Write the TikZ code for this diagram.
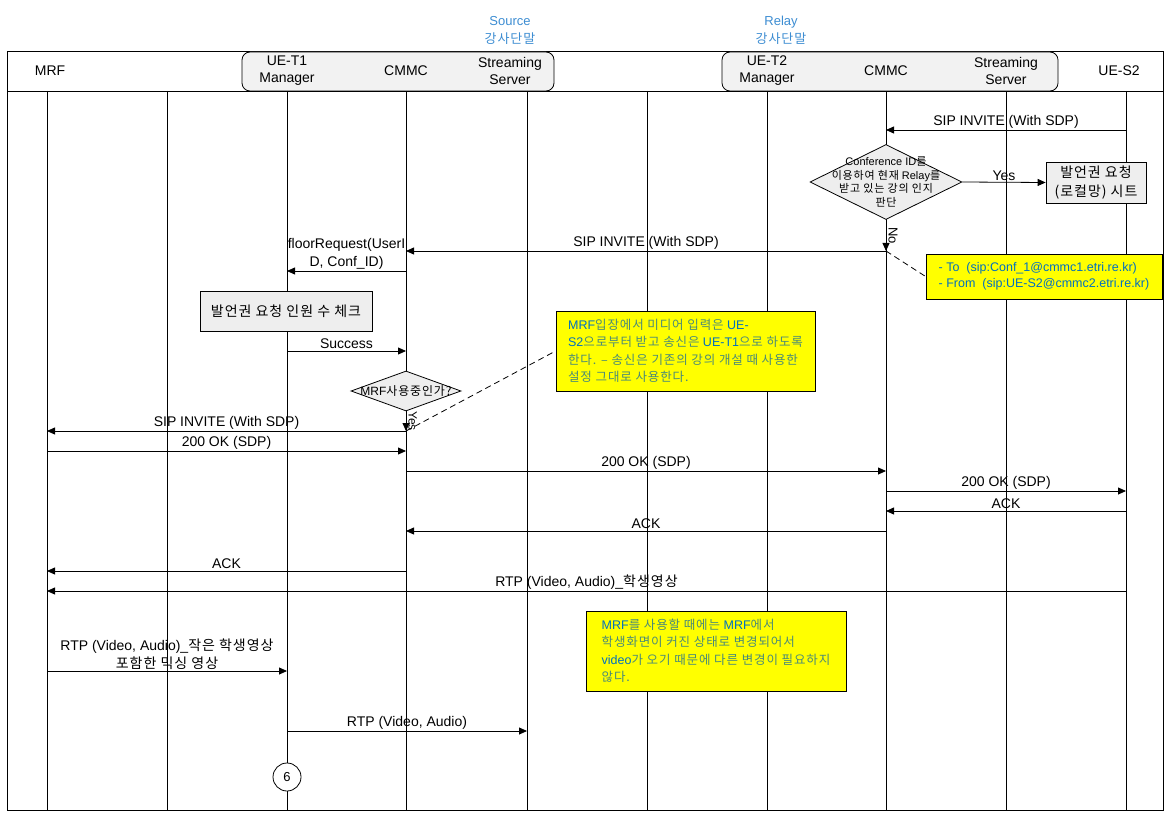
\documentclass[tikz,border=0pt]{standalone}
\usepackage{fontspec}
\setmainfont{Liberation Sans}
\newfontfamily\krfont{Noto Sans CJK KR}[LetterSpace=7]
\usetikzlibrary{arrows.meta, shapes.geometric}
\definecolor{noteY}{HTML}{FFFF00}
\definecolor{noteB}{HTML}{0070C0}
\definecolor{noteK}{HTML}{4A8A78}
\definecolor{grpB}{HTML}{3D8DD2}
\definecolor{boxG}{HTML}{EEEEEE}
\definecolor{grpG}{HTML}{F2F2F2}
\newcommand{\kr}[1]{{\krfont #1}}
\newcommand{\lt}[1]{{\color{noteB}#1}}

\tikzset{
  msg/.style={-{Triangle[length=8pt,width=7pt]}},
  lbl/.style={above, inner sep=1.5pt, font=\fontsize{14}{18}\selectfont, align=center},
  hdr/.style={font=\fontsize{14}{17}\selectfont, align=center},
  grp/.style={draw, fill=grpG, rounded corners=8pt, minimum height=39pt},
  grplbl/.style={text=grpB, font=\fontsize{13}{18}\selectfont, align=center},
  proc/.style={draw, fill=boxG, inner sep=0pt},
  dec/.style={diamond, draw, fill=boxG, inner sep=0pt},
  note/.style={draw, fill=noteY, inner sep=0pt, align=left, text=noteK,
    font=\fontsize{12.5}{17.5}\selectfont},
  link/.style={dashed, dash pattern=on 6pt off 4pt}
}

\begin{document}
\begin{tikzpicture}[x=1pt, y=-1pt, line width=0.8pt]
\useasboundingbox (0,0) rectangle (1170,818);

% lifelines
\foreach \n/\x in {mrf/47, la/167, ut1/287, cm1/406, ss1/527, lb/647, ut2/767, cm2/886, ss2/1006, us2/1126}
  \coordinate (\n) at (\x,91);
\foreach \n in {mrf, la, ut1, cm1, ss1, lb, ut2, cm2, ss2, us2}
  \draw (\n) -- (\n |- 0,810);

% frame and header row
\draw (7,51) rectangle (1163,810);
\draw (7,91) -- (1163,91);
\node[grp, minimum width=312pt] (srcgrp) at (398,71.5) {};
\node[grp, minimum width=336pt] (relgrp) at (890,71.5) {};
\node[grplbl] (srclbl) at (510,30) {Source\\\kr{강사단말}};
\node[grplbl] (rellbl) at (781,30) {Relay\\\kr{강사단말}};
\node[hdr] (hmrf) at (50,71) {MRF};
\node[hdr] (hut1) at (287,71) {UE-T1\\Manager};
\node[hdr] (hcm1) at (406,71) {CMMC};
\node[hdr] (hss1) at (510,71) {Streaming\\Server};
\node[hdr] (hut2) at (767,71) {UE-T2\\Manager};
\node[hdr] (hcm2) at (886,71) {CMMC};
\node[hdr] (hss2) at (1006,71) {Streaming\\Server};
\node[hdr] (hus2) at (1119,71) {UE-S2};

% relay side
\draw[msg] (us2 |- 0,130) -- node[lbl] {SIP INVITE (With SDP)} (cm2 |- 0,130);
\node[dec, minimum width=152pt, minimum height=75pt] (d1) at (886,182) {};
\node[font=\fontsize{11}{13.5}\selectfont, align=center] (d1txt) at (d1)
  {Conference ID\kr{를}\\\kr{이용하여 현재} Relay\kr{를}\\\kr{받고 있는 강의 인지}\\\kr{판단}};
\node[proc, minimum width=100pt, minimum height=41pt, font=\fontsize{14}{19}\selectfont, align=center]
  (floor) at (1096,182.5) {\kr{발언권 요청}\\\kr{(로컬망) 시트}};
\draw[msg] (d1.east) -- node[lbl] {Yes} (floor.west);
\coordinate (inv2) at (886,251);
\draw[msg] (d1.south) -- node[midway, rotate=-90, anchor=south, inner sep=2pt,
  font=\fontsize{13}{15}\selectfont] {No} (inv2);
\draw[msg] (inv2) -- node[lbl] {SIP INVITE (With SDP)} (cm1 |- inv2);
\node[note, minimum width=236pt, minimum height=45pt, text=noteB,
  font=\fontsize{12.5}{16}\selectfont] (n1) at (1044,276.5)
  {- To\ \ (sip:Conf\_1@cmmc1.etri.re.kr)\\- From\ \ (sip:UE-S2@cmmc2.etri.re.kr)};
\draw[link] (inv2) -- (n1.west);

% source side
\draw[msg] (cm1 |- 0,271) -- node[lbl] {floorRequest(UserI\\D, Conf\_ID)} (ut1 |- 0,271);
\node[proc, minimum width=172pt, minimum height=40pt, font=\fontsize{14}{17}\selectfont]
  (cnt) at (286,311) {\kr{발언권 요청 인원 수 체크}};
\draw[msg] (ut1 |- 0,351) -- node[lbl] {Success} (cm1 |- 0,351);
\node[dec, minimum width=110pt, minimum height=40pt] (d2) at (406,391) {};
\node[font=\fontsize{12}{14}\selectfont] (d2txt) at (d2) {MRF\kr{사용중인가?}};
\coordinate (inv1) at (406,431);
\draw[msg] (d2.south) -- node[midway, rotate=-90, anchor=south, inner sep=2pt,
  font=\fontsize{12}{14}\selectfont] {Yes} (inv1);
\node[note, minimum width=259pt, minimum height=80pt] (n2) at (685.5,351)
  {\lt{MRF}\kr{입장에서 미디어 입력은} \lt{UE-}\\
   \lt{S2}\kr{으로부터 받고 송신은} \lt{UE-T1}\kr{으로 하도록}\\
   \kr{한다. – 송신은 기존의 강의 개설 때 사용한}\\
   \kr{설정 그대로 사용한다.}};
\draw[link] (inv1) -- (n2.west);

% session setup
\draw[msg] (inv1) -- node[lbl] {SIP INVITE (With SDP)} (mrf |- inv1);
\draw[msg] (mrf |- 0,451) -- node[lbl] {200 OK (SDP)} (cm1 |- 0,451);
\draw[msg] (cm1 |- 0,471) -- node[lbl] {200 OK (SDP)} (cm2 |- 0,471);
\draw[msg] (cm2 |- 0,491) -- node[lbl] {200 OK (SDP)} (us2 |- 0,491);
\draw[msg] (us2 |- 0,511) -- node[lbl] {ACK} (cm2 |- 0,511);
\draw[msg] (cm2 |- 0,531) -- node[lbl] {ACK} (cm1 |- 0,531);
\draw[msg] (cm1 |- 0,571) -- node[lbl] {ACK} (mrf |- 0,571);
\draw[msg] (us2 |- 0,591) -- node[lbl] {RTP (Video, Audio)\_\kr{학생영상}} (mrf |- 0,591);

% media
\node[note, minimum width=260pt, minimum height=80pt] (n3) at (716,651)
  {\lt{MRF}\kr{를 사용할 때에는} \lt{MRF}\kr{에서}\\
   \kr{학생화면이 커진 상태로 변경되어서}\\
   \lt{video}\kr{가 오기 때문에 다른 변경이 필요하지}\\
   \kr{않다.}};
\draw[msg] (mrf |- 0,671) -- node[lbl] {RTP (Video, Audio)\_\kr{작은 학생영상}\\\kr{포함한 믹싱 영상}} (ut1 |- 0,671);
\draw[msg] (ut1 |- 0,731) -- node[lbl] {RTP (Video, Audio)} (ss1 |- 0,731);
\node[draw, circle, fill=white, minimum size=28pt, inner sep=0pt, font=\fontsize{13}{15}\selectfont]
  (step6) at (287,777) {6};
\end{tikzpicture}
\end{document}
